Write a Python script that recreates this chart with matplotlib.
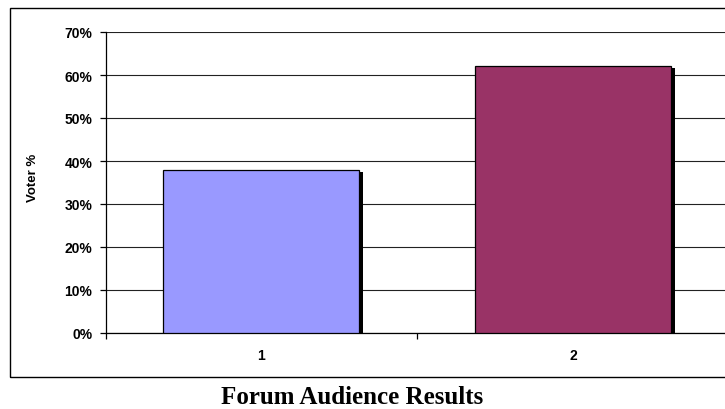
import matplotlib
matplotlib.use("Agg")
import matplotlib.pyplot as plt
from matplotlib.patches import Rectangle
from matplotlib import patheffects as pe
from matplotlib.ticker import FixedLocator, NullFormatter, FuncFormatter

# Poll results
categories = ["1", "2"]
voter_share = [38, 62]          # percent of votes
bar_colors = ["#9999FF", "#993366"]
y_ticks = [0, 10, 20, 30, 40, 50, 60, 70]

W, H = 725, 410
fig = plt.figure(figsize=(W / 100, H / 100), dpi=100)
fig.patch.set_facecolor("white")

# outer chart frame (runs past the right edge of the canvas)
fig.patches.append(Rectangle((10 / W, 1 - 378 / H), 1.2, (378 - 9) / H,
                             transform=fig.transFigure, fill=False,
                             edgecolor="black", linewidth=1.0, zorder=0))

ax = fig.add_axes([105.5 / W, 1 - 334 / H, 623.4 / W, 301 / H])
ax.set_facecolor("none")

positions = list(range(1, len(categories) + 1))
shadow = [pe.SimplePatchShadow(offset=(2.6, -1.5), shadow_rgbFace="black", alpha=1.0),
          pe.Normal()]
bars = ax.bar(positions, voter_share, width=0.628, color=bar_colors,
              edgecolor="black", linewidth=0.9, zorder=3)
for b in bars:
    b.set_path_effects(shadow)

ax.set_xlim(0.5, len(categories) + 0.5)
ax.set_ylim(0, 70)

# y axis
ax.set_yticks(y_ticks)
ax.yaxis.set_major_formatter(FuncFormatter(lambda v, p: f"{v:.0f}%"))
ax.tick_params(axis="y", direction="out", length=4, width=0.9, pad=5.5,
               labelsize=10)
for t in ax.get_yticklabels():
    t.set_fontweight("bold")
    t.set_fontfamily("Liberation Sans")
ax.yaxis.grid(True, color="#222222", linewidth=0.8, zorder=1)
ax.set_axisbelow(True)

# x axis: separator ticks between categories, labels at the centres
ax.xaxis.set_major_locator(FixedLocator([p + 0.5 for p in [0] + positions]))
ax.xaxis.set_major_formatter(NullFormatter())
ax.xaxis.set_minor_locator(FixedLocator(positions))
ax.set_xticklabels(categories, minor=True)
ax.tick_params(axis="x", which="major", direction="out", length=4, width=0.9)
ax.tick_params(axis="x", which="minor", length=0, pad=10.5, labelsize=10)
for t in ax.get_xticklabels(minor=True):
    t.set_fontweight("bold")
    t.set_fontfamily("Liberation Sans")

for s in ["top", "right"]:
    ax.spines[s].set_visible(False)
for s in ["left", "bottom"]:
    ax.spines[s].set_linewidth(0.9)
    ax.spines[s].set_color("black")

ax.set_ylabel("Voter %", fontsize=9.5, fontweight="bold",
              fontfamily="Liberation Sans")
ax.yaxis.set_label_coords((39 - 105.5) / 623.4, 0.52)

fig.text(352 / W, 1 - 398 / H, "Forum Audience Results", ha="center",
         va="center", fontsize=18, fontweight="bold",
         fontfamily="Liberation Serif")

fig.savefig("out.png", dpi=100)
